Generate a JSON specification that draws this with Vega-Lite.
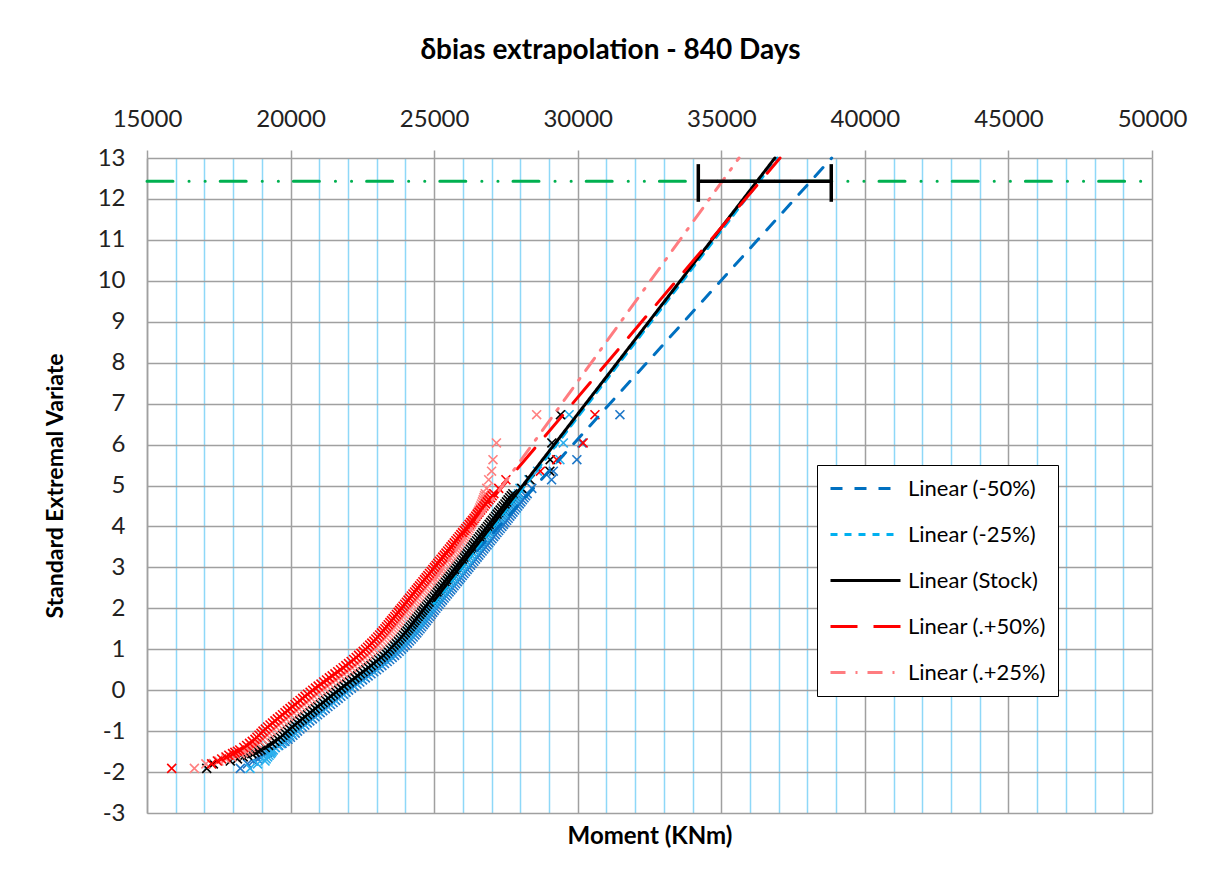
{
"$schema":"https://vega.github.io/schema/vega-lite/v6.json",
"width":1005,"height":655,
"autosize":{"type":"none"},
"padding":{"left":147,"top":158,"right":59,"bottom":63},
"background":"white",
"title":{"text":"δbias extrapolation - 840 Days","fontSize":28,"fontWeight":"bold","font":"Lato","color":"#000","anchor":"middle","dx":-39,"offset":42},
"config":{"view":{"stroke":null},"font":"Lato",
"legend":{"strokeColor":"#000","fillColor":"#fff","padding":12,"symbolType":"M-1,0H6","symbolSize":400,"symbolStrokeWidth":3,"labelFontSize":22,"labelFont":"Lato","labelColor":"#000","labelOffset":56,"rowPadding":23,"labelLimit":300}},
"datasets":{
"pts":[
{"s":"-50%","x":18250,"y":-1.91},{"s":"-50%","x":18500,"y":-1.8},{"s":"-50%","x":18700,"y":-1.73},{"s":"-50%","x":18850,"y":-1.68},{"s":"-50%","x":18950,"y":-1.63},{"s":"-50%","x":19050,"y":-1.59},{"s":"-50%","x":19130,"y":-1.55},{"s":"-50%","x":19200,"y":-1.52},{"s":"-50%","x":19260,"y":-1.49},{"s":"-50%","x":19320,"y":-1.46},
{"s":"-50%","x":19470,"y":-1.4},{"s":"-50%","x":19700,"y":-1.3},{"s":"-50%","x":19910,"y":-1.2},{"s":"-50%","x":20080,"y":-1.1},{"s":"-50%","x":20240,"y":-1.0},{"s":"-50%","x":20410,"y":-0.9},{"s":"-50%","x":20580,"y":-0.8},{"s":"-50%","x":20760,"y":-0.7},{"s":"-50%","x":20940,"y":-0.6},{"s":"-50%","x":21120,"y":-0.5},{"s":"-50%","x":21300,"y":-0.4},{"s":"-50%","x":21480,"y":-0.3},{"s":"-50%","x":21660,"y":-0.2},{"s":"-50%","x":21840,"y":-0.1},{"s":"-50%","x":22020,"y":0},{"s":"-50%","x":22215,"y":0.1},{"s":"-50%","x":22410,"y":0.2},{"s":"-50%","x":22605,"y":0.3},{"s":"-50%","x":22800,"y":0.4},{"s":"-50%","x":22995,"y":0.5},{"s":"-50%","x":23180,"y":0.6},{"s":"-50%","x":23365,"y":0.7},{"s":"-50%","x":23540,"y":0.8},{"s":"-50%","x":23705,"y":0.9},{"s":"-50%","x":23860,"y":1.0},{"s":"-50%","x":24000,"y":1.1},{"s":"-50%","x":24140,"y":1.2},{"s":"-50%","x":24270,"y":1.3},{"s":"-50%","x":24395,"y":1.4},{"s":"-50%","x":24510,"y":1.5},{"s":"-50%","x":24620,"y":1.6},{"s":"-50%","x":24730,"y":1.7},{"s":"-50%","x":24840,"y":1.8},{"s":"-50%","x":24950,"y":1.9},{"s":"-50%","x":25060,"y":2.0},{"s":"-50%","x":25175,"y":2.1},{"s":"-50%","x":25290,"y":2.2},{"s":"-50%","x":25405,"y":2.3},{"s":"-50%","x":25520,"y":2.4},{"s":"-50%","x":25635,"y":2.5},{"s":"-50%","x":25750,"y":2.6},{"s":"-50%","x":25865,"y":2.7},{"s":"-50%","x":25980,"y":2.8},{"s":"-50%","x":26095,"y":2.9},{"s":"-50%","x":26210,"y":3.0},{"s":"-50%","x":26325,"y":3.1},{"s":"-50%","x":26440,"y":3.2},{"s":"-50%","x":26555,"y":3.3},{"s":"-50%","x":26670,"y":3.4},{"s":"-50%","x":26785,"y":3.5},{"s":"-50%","x":26900,"y":3.6},{"s":"-50%","x":27015,"y":3.7},{"s":"-50%","x":27130,"y":3.8},{"s":"-50%","x":27245,"y":3.9},{"s":"-50%","x":27360,"y":4.0},{"s":"-50%","x":27470,"y":4.1},{"s":"-50%","x":27580,"y":4.2},{"s":"-50%","x":27690,"y":4.3},{"s":"-50%","x":27800,"y":4.4},{"s":"-50%","x":27910,"y":4.5},{"s":"-50%","x":28020,"y":4.6},{"s":"-50%","x":28130,"y":4.7},{"s":"-50%","x":28240,"y":4.8},{"s":"-50%","x":28400,"y":4.93},{"s":"-50%","x":29090,"y":5.14},{"s":"-50%","x":29150,"y":5.35},{"s":"-50%","x":29970,"y":5.63},{"s":"-50%","x":30150,"y":6.04},{"s":"-50%","x":31470,"y":6.73},
{"s":"-50%","x":19585,"y":-1.35},{"s":"-50%","x":19805,"y":-1.25},{"s":"-50%","x":19995,"y":-1.15},{"s":"-50%","x":20160,"y":-1.05},{"s":"-50%","x":20325,"y":-0.95},{"s":"-50%","x":20495,"y":-0.85},{"s":"-50%","x":20670,"y":-0.75},{"s":"-50%","x":20850,"y":-0.65},{"s":"-50%","x":21030,"y":-0.55},{"s":"-50%","x":21210,"y":-0.45},{"s":"-50%","x":21390,"y":-0.35},{"s":"-50%","x":21570,"y":-0.25},{"s":"-50%","x":21750,"y":-0.15},{"s":"-50%","x":21930,"y":-0.05},{"s":"-50%","x":22118,"y":0.05},{"s":"-50%","x":22312,"y":0.15},{"s":"-50%","x":22508,"y":0.25},{"s":"-50%","x":22702,"y":0.35},{"s":"-50%","x":22898,"y":0.45},{"s":"-50%","x":23088,"y":0.55},{"s":"-50%","x":23272,"y":0.65},{"s":"-50%","x":23452,"y":0.75},{"s":"-50%","x":23622,"y":0.85},{"s":"-50%","x":23782,"y":0.95},{"s":"-50%","x":23930,"y":1.05},{"s":"-50%","x":24070,"y":1.15},{"s":"-50%","x":24205,"y":1.25},{"s":"-50%","x":24332,"y":1.35},{"s":"-50%","x":24452,"y":1.45},{"s":"-50%","x":24565,"y":1.55},{"s":"-50%","x":24675,"y":1.65},{"s":"-50%","x":24785,"y":1.75},{"s":"-50%","x":24895,"y":1.85},{"s":"-50%","x":25005,"y":1.95},{"s":"-50%","x":25118,"y":2.05},{"s":"-50%","x":25232,"y":2.15},{"s":"-50%","x":25348,"y":2.25},{"s":"-50%","x":25462,"y":2.35},{"s":"-50%","x":25578,"y":2.45},{"s":"-50%","x":25692,"y":2.55},{"s":"-50%","x":25808,"y":2.65},{"s":"-50%","x":25922,"y":2.75},{"s":"-50%","x":26038,"y":2.85},{"s":"-50%","x":26152,"y":2.95},{"s":"-50%","x":26268,"y":3.05},{"s":"-50%","x":26382,"y":3.15},{"s":"-50%","x":26498,"y":3.25},{"s":"-50%","x":26612,"y":3.35},{"s":"-50%","x":26728,"y":3.45},{"s":"-50%","x":26842,"y":3.55},{"s":"-50%","x":26958,"y":3.65},{"s":"-50%","x":27072,"y":3.75},{"s":"-50%","x":27188,"y":3.85},{"s":"-50%","x":27302,"y":3.95},{"s":"-50%","x":27415,"y":4.05},{"s":"-50%","x":27525,"y":4.15},{"s":"-50%","x":27635,"y":4.25},{"s":"-50%","x":27745,"y":4.35},{"s":"-50%","x":27855,"y":4.45},{"s":"-50%","x":27965,"y":4.55},{"s":"-50%","x":28075,"y":4.65},{"s":"-50%","x":28185,"y":4.75},
{"s":"-25%","x":18590,"y":-1.91},{"s":"-25%","x":18850,"y":-1.8},{"s":"-25%","x":19110,"y":-1.73},{"s":"-25%","x":19150,"y":-1.68},{"s":"-25%","x":19200,"y":-1.63},{"s":"-25%","x":19250,"y":-1.59},{"s":"-25%","x":19300,"y":-1.55},{"s":"-25%","x":19330,"y":-1.52},{"s":"-25%","x":19360,"y":-1.49},{"s":"-25%","x":19400,"y":-1.46},
{"s":"-25%","x":19450,"y":-1.4},{"s":"-25%","x":19650,"y":-1.3},{"s":"-25%","x":19830,"y":-1.2},{"s":"-25%","x":19970,"y":-1.1},{"s":"-25%","x":20110,"y":-1.0},{"s":"-25%","x":20260,"y":-0.9},{"s":"-25%","x":20420,"y":-0.8},{"s":"-25%","x":20590,"y":-0.7},{"s":"-25%","x":20770,"y":-0.6},{"s":"-25%","x":20950,"y":-0.5},{"s":"-25%","x":21130,"y":-0.4},{"s":"-25%","x":21310,"y":-0.3},{"s":"-25%","x":21490,"y":-0.2},{"s":"-25%","x":21670,"y":-0.1},{"s":"-25%","x":21850,"y":0},{"s":"-25%","x":22040,"y":0.1},{"s":"-25%","x":22230,"y":0.2},{"s":"-25%","x":22420,"y":0.3},{"s":"-25%","x":22610,"y":0.4},{"s":"-25%","x":22800,"y":0.5},{"s":"-25%","x":22980,"y":0.6},{"s":"-25%","x":23160,"y":0.7},{"s":"-25%","x":23330,"y":0.8},{"s":"-25%","x":23490,"y":0.9},{"s":"-25%","x":23650,"y":1.0},{"s":"-25%","x":23790,"y":1.1},{"s":"-25%","x":23930,"y":1.2},{"s":"-25%","x":24060,"y":1.3},{"s":"-25%","x":24185,"y":1.4},{"s":"-25%","x":24310,"y":1.5},{"s":"-25%","x":24420,"y":1.6},{"s":"-25%","x":24530,"y":1.7},{"s":"-25%","x":24640,"y":1.8},{"s":"-25%","x":24750,"y":1.9},{"s":"-25%","x":24860,"y":2.0},{"s":"-25%","x":24970,"y":2.1},{"s":"-25%","x":25080,"y":2.2},{"s":"-25%","x":25190,"y":2.3},{"s":"-25%","x":25300,"y":2.4},{"s":"-25%","x":25410,"y":2.5},{"s":"-25%","x":25520,"y":2.6},{"s":"-25%","x":25630,"y":2.7},{"s":"-25%","x":25740,"y":2.8},{"s":"-25%","x":25850,"y":2.9},{"s":"-25%","x":25960,"y":3.0},{"s":"-25%","x":26070,"y":3.1},{"s":"-25%","x":26180,"y":3.2},{"s":"-25%","x":26290,"y":3.3},{"s":"-25%","x":26400,"y":3.4},{"s":"-25%","x":26510,"y":3.5},{"s":"-25%","x":26620,"y":3.6},{"s":"-25%","x":26730,"y":3.7},{"s":"-25%","x":26840,"y":3.8},{"s":"-25%","x":26950,"y":3.9},{"s":"-25%","x":27060,"y":4.0},{"s":"-25%","x":27170,"y":4.1},{"s":"-25%","x":27280,"y":4.2},{"s":"-25%","x":27390,"y":4.3},{"s":"-25%","x":27500,"y":4.4},{"s":"-25%","x":27610,"y":4.5},{"s":"-25%","x":27720,"y":4.6},{"s":"-25%","x":27830,"y":4.7},{"s":"-25%","x":27940,"y":4.8},{"s":"-25%","x":27990,"y":4.93},{"s":"-25%","x":28300,"y":5.14},{"s":"-25%","x":28600,"y":5.35},{"s":"-25%","x":29380,"y":5.63},{"s":"-25%","x":29500,"y":6.04},{"s":"-25%","x":29700,"y":6.73},
{"s":"-25%","x":19550,"y":-1.35},{"s":"-25%","x":19740,"y":-1.25},{"s":"-25%","x":19900,"y":-1.15},{"s":"-25%","x":20040,"y":-1.05},{"s":"-25%","x":20185,"y":-0.95},{"s":"-25%","x":20340,"y":-0.85},{"s":"-25%","x":20505,"y":-0.75},{"s":"-25%","x":20680,"y":-0.65},{"s":"-25%","x":20860,"y":-0.55},{"s":"-25%","x":21040,"y":-0.45},{"s":"-25%","x":21220,"y":-0.35},{"s":"-25%","x":21400,"y":-0.25},{"s":"-25%","x":21580,"y":-0.15},{"s":"-25%","x":21760,"y":-0.05},{"s":"-25%","x":21945,"y":0.05},{"s":"-25%","x":22135,"y":0.15},{"s":"-25%","x":22325,"y":0.25},{"s":"-25%","x":22515,"y":0.35},{"s":"-25%","x":22705,"y":0.45},{"s":"-25%","x":22890,"y":0.55},{"s":"-25%","x":23070,"y":0.65},{"s":"-25%","x":23245,"y":0.75},{"s":"-25%","x":23410,"y":0.85},{"s":"-25%","x":23570,"y":0.95},{"s":"-25%","x":23720,"y":1.05},{"s":"-25%","x":23860,"y":1.15},{"s":"-25%","x":23995,"y":1.25},{"s":"-25%","x":24122,"y":1.35},{"s":"-25%","x":24248,"y":1.45},{"s":"-25%","x":24365,"y":1.55},{"s":"-25%","x":24475,"y":1.65},{"s":"-25%","x":24585,"y":1.75},{"s":"-25%","x":24695,"y":1.85},{"s":"-25%","x":24805,"y":1.95},{"s":"-25%","x":24915,"y":2.05},{"s":"-25%","x":25025,"y":2.15},{"s":"-25%","x":25135,"y":2.25},{"s":"-25%","x":25245,"y":2.35},{"s":"-25%","x":25355,"y":2.45},{"s":"-25%","x":25465,"y":2.55},{"s":"-25%","x":25575,"y":2.65},{"s":"-25%","x":25685,"y":2.75},{"s":"-25%","x":25795,"y":2.85},{"s":"-25%","x":25905,"y":2.95},{"s":"-25%","x":26015,"y":3.05},{"s":"-25%","x":26125,"y":3.15},{"s":"-25%","x":26235,"y":3.25},{"s":"-25%","x":26345,"y":3.35},{"s":"-25%","x":26455,"y":3.45},{"s":"-25%","x":26565,"y":3.55},{"s":"-25%","x":26675,"y":3.65},{"s":"-25%","x":26785,"y":3.75},{"s":"-25%","x":26895,"y":3.85},{"s":"-25%","x":27005,"y":3.95},{"s":"-25%","x":27115,"y":4.05},{"s":"-25%","x":27225,"y":4.15},{"s":"-25%","x":27335,"y":4.25},{"s":"-25%","x":27445,"y":4.35},{"s":"-25%","x":27555,"y":4.45},{"s":"-25%","x":27665,"y":4.55},{"s":"-25%","x":27775,"y":4.65},{"s":"-25%","x":27885,"y":4.75},
{"s":"Stock","x":17080,"y":-1.91},{"s":"Stock","x":17310,"y":-1.8},{"s":"Stock","x":17900,"y":-1.73},{"s":"Stock","x":18150,"y":-1.68},{"s":"Stock","x":18350,"y":-1.63},{"s":"Stock","x":18500,"y":-1.59},{"s":"Stock","x":18650,"y":-1.55},{"s":"Stock","x":18760,"y":-1.52},{"s":"Stock","x":18870,"y":-1.49},{"s":"Stock","x":18970,"y":-1.46},
{"s":"Stock","x":19120,"y":-1.4},{"s":"Stock","x":19350,"y":-1.3},{"s":"Stock","x":19560,"y":-1.2},{"s":"Stock","x":19730,"y":-1.1},{"s":"Stock","x":19890,"y":-1.0},{"s":"Stock","x":20060,"y":-0.9},{"s":"Stock","x":20230,"y":-0.8},{"s":"Stock","x":20410,"y":-0.7},{"s":"Stock","x":20590,"y":-0.6},{"s":"Stock","x":20770,"y":-0.5},{"s":"Stock","x":20950,"y":-0.4},{"s":"Stock","x":21130,"y":-0.3},{"s":"Stock","x":21310,"y":-0.2},{"s":"Stock","x":21490,"y":-0.1},{"s":"Stock","x":21670,"y":0},{"s":"Stock","x":21860,"y":0.1},{"s":"Stock","x":22050,"y":0.2},{"s":"Stock","x":22240,"y":0.3},{"s":"Stock","x":22430,"y":0.4},{"s":"Stock","x":22620,"y":0.5},{"s":"Stock","x":22800,"y":0.6},{"s":"Stock","x":22980,"y":0.7},{"s":"Stock","x":23150,"y":0.8},{"s":"Stock","x":23310,"y":0.9},{"s":"Stock","x":23460,"y":1.0},{"s":"Stock","x":23600,"y":1.1},{"s":"Stock","x":23740,"y":1.2},{"s":"Stock","x":23870,"y":1.3},{"s":"Stock","x":23995,"y":1.4},{"s":"Stock","x":24110,"y":1.5},{"s":"Stock","x":24220,"y":1.6},{"s":"Stock","x":24330,"y":1.7},{"s":"Stock","x":24440,"y":1.8},{"s":"Stock","x":24550,"y":1.9},{"s":"Stock","x":24660,"y":2.0},{"s":"Stock","x":24770,"y":2.1},{"s":"Stock","x":24880,"y":2.2},{"s":"Stock","x":24990,"y":2.3},{"s":"Stock","x":25100,"y":2.4},{"s":"Stock","x":25210,"y":2.5},{"s":"Stock","x":25320,"y":2.6},{"s":"Stock","x":25430,"y":2.7},{"s":"Stock","x":25540,"y":2.8},{"s":"Stock","x":25650,"y":2.9},{"s":"Stock","x":25760,"y":3.0},{"s":"Stock","x":25870,"y":3.1},{"s":"Stock","x":25980,"y":3.2},{"s":"Stock","x":26090,"y":3.3},{"s":"Stock","x":26200,"y":3.4},{"s":"Stock","x":26310,"y":3.5},{"s":"Stock","x":26420,"y":3.6},{"s":"Stock","x":26530,"y":3.7},{"s":"Stock","x":26640,"y":3.8},{"s":"Stock","x":26750,"y":3.9},{"s":"Stock","x":26860,"y":4.0},{"s":"Stock","x":26970,"y":4.1},{"s":"Stock","x":27080,"y":4.2},{"s":"Stock","x":27190,"y":4.3},{"s":"Stock","x":27300,"y":4.4},{"s":"Stock","x":27410,"y":4.5},{"s":"Stock","x":27520,"y":4.6},{"s":"Stock","x":27630,"y":4.7},{"s":"Stock","x":27740,"y":4.8},{"s":"Stock","x":28050,"y":4.93},{"s":"Stock","x":28340,"y":5.14},{"s":"Stock","x":29030,"y":5.35},{"s":"Stock","x":29040,"y":5.63},{"s":"Stock","x":29100,"y":6.04},{"s":"Stock","x":29400,"y":6.73},
{"s":"Stock","x":19235,"y":-1.35},{"s":"Stock","x":19455,"y":-1.25},{"s":"Stock","x":19645,"y":-1.15},{"s":"Stock","x":19810,"y":-1.05},{"s":"Stock","x":19975,"y":-0.95},{"s":"Stock","x":20145,"y":-0.85},{"s":"Stock","x":20320,"y":-0.75},{"s":"Stock","x":20500,"y":-0.65},{"s":"Stock","x":20680,"y":-0.55},{"s":"Stock","x":20860,"y":-0.45},{"s":"Stock","x":21040,"y":-0.35},{"s":"Stock","x":21220,"y":-0.25},{"s":"Stock","x":21400,"y":-0.15},{"s":"Stock","x":21580,"y":-0.05},{"s":"Stock","x":21765,"y":0.05},{"s":"Stock","x":21955,"y":0.15},{"s":"Stock","x":22145,"y":0.25},{"s":"Stock","x":22335,"y":0.35},{"s":"Stock","x":22525,"y":0.45},{"s":"Stock","x":22710,"y":0.55},{"s":"Stock","x":22890,"y":0.65},{"s":"Stock","x":23065,"y":0.75},{"s":"Stock","x":23230,"y":0.85},{"s":"Stock","x":23385,"y":0.95},{"s":"Stock","x":23530,"y":1.05},{"s":"Stock","x":23670,"y":1.15},{"s":"Stock","x":23805,"y":1.25},{"s":"Stock","x":23932,"y":1.35},{"s":"Stock","x":24052,"y":1.45},{"s":"Stock","x":24165,"y":1.55},{"s":"Stock","x":24275,"y":1.65},{"s":"Stock","x":24385,"y":1.75},{"s":"Stock","x":24495,"y":1.85},{"s":"Stock","x":24605,"y":1.95},{"s":"Stock","x":24715,"y":2.05},{"s":"Stock","x":24825,"y":2.15},{"s":"Stock","x":24935,"y":2.25},{"s":"Stock","x":25045,"y":2.35},{"s":"Stock","x":25155,"y":2.45},{"s":"Stock","x":25265,"y":2.55},{"s":"Stock","x":25375,"y":2.65},{"s":"Stock","x":25485,"y":2.75},{"s":"Stock","x":25595,"y":2.85},{"s":"Stock","x":25705,"y":2.95},{"s":"Stock","x":25815,"y":3.05},{"s":"Stock","x":25925,"y":3.15},{"s":"Stock","x":26035,"y":3.25},{"s":"Stock","x":26145,"y":3.35},{"s":"Stock","x":26255,"y":3.45},{"s":"Stock","x":26365,"y":3.55},{"s":"Stock","x":26475,"y":3.65},{"s":"Stock","x":26585,"y":3.75},{"s":"Stock","x":26695,"y":3.85},{"s":"Stock","x":26805,"y":3.95},{"s":"Stock","x":26915,"y":4.05},{"s":"Stock","x":27025,"y":4.15},{"s":"Stock","x":27135,"y":4.25},{"s":"Stock","x":27245,"y":4.35},{"s":"Stock","x":27355,"y":4.45},{"s":"Stock","x":27465,"y":4.55},{"s":"Stock","x":27575,"y":4.65},{"s":"Stock","x":27685,"y":4.75},
{"s":"+25%","x":16650,"y":-1.91},{"s":"+25%","x":17050,"y":-1.8},{"s":"+25%","x":17500,"y":-1.73},{"s":"+25%","x":17750,"y":-1.68},{"s":"+25%","x":17950,"y":-1.63},{"s":"+25%","x":18100,"y":-1.59},{"s":"+25%","x":18250,"y":-1.55},{"s":"+25%","x":18350,"y":-1.52},{"s":"+25%","x":18450,"y":-1.49},{"s":"+25%","x":18550,"y":-1.46},
{"s":"+25%","x":18620,"y":-1.4},{"s":"+25%","x":18835,"y":-1.3},{"s":"+25%","x":19030,"y":-1.2},{"s":"+25%","x":19185,"y":-1.1},{"s":"+25%","x":19330,"y":-1.0},{"s":"+25%","x":19495,"y":-0.9},{"s":"+25%","x":19660,"y":-0.8},{"s":"+25%","x":19840,"y":-0.7},{"s":"+25%","x":20015,"y":-0.6},{"s":"+25%","x":20195,"y":-0.5},{"s":"+25%","x":20370,"y":-0.4},{"s":"+25%","x":20550,"y":-0.3},{"s":"+25%","x":20725,"y":-0.2},{"s":"+25%","x":20905,"y":-0.1},{"s":"+25%","x":21080,"y":0},{"s":"+25%","x":21273,"y":0.1},{"s":"+25%","x":21466,"y":0.2},{"s":"+25%","x":21659,"y":0.3},{"s":"+25%","x":21852,"y":0.4},{"s":"+25%","x":22045,"y":0.5},{"s":"+25%","x":22228,"y":0.6},{"s":"+25%","x":22411,"y":0.7},{"s":"+25%","x":22584,"y":0.8},{"s":"+25%","x":22747,"y":0.9},{"s":"+25%","x":22900,"y":1.0},{"s":"+25%","x":23043,"y":1.1},{"s":"+25%","x":23186,"y":1.2},{"s":"+25%","x":23319,"y":1.3},{"s":"+25%","x":23447,"y":1.4},{"s":"+25%","x":23565,"y":1.5},{"s":"+25%","x":23678,"y":1.6},{"s":"+25%","x":23791,"y":1.7},{"s":"+25%","x":23904,"y":1.8},{"s":"+25%","x":24017,"y":1.9},{"s":"+25%","x":24130,"y":2.0},{"s":"+25%","x":24243,"y":2.1},{"s":"+25%","x":24356,"y":2.2},{"s":"+25%","x":24469,"y":2.3},{"s":"+25%","x":24582,"y":2.4},{"s":"+25%","x":24695,"y":2.5},{"s":"+25%","x":24808,"y":2.6},{"s":"+25%","x":24921,"y":2.7},{"s":"+25%","x":25034,"y":2.8},{"s":"+25%","x":25147,"y":2.9},{"s":"+25%","x":25260,"y":3.0},{"s":"+25%","x":25374,"y":3.1},{"s":"+25%","x":25488,"y":3.2},{"s":"+25%","x":25602,"y":3.3},{"s":"+25%","x":25700,"y":3.4},{"s":"+25%","x":25800,"y":3.5},{"s":"+25%","x":25900,"y":3.6},{"s":"+25%","x":26000,"y":3.7},{"s":"+25%","x":26090,"y":3.8},{"s":"+25%","x":26180,"y":3.9},{"s":"+25%","x":26260,"y":4.0},{"s":"+25%","x":26340,"y":4.1},{"s":"+25%","x":26420,"y":4.2},{"s":"+25%","x":26490,"y":4.3},{"s":"+25%","x":26560,"y":4.4},{"s":"+25%","x":26620,"y":4.5},{"s":"+25%","x":26680,"y":4.6},{"s":"+25%","x":26730,"y":4.7},{"s":"+25%","x":26780,"y":4.8},{"s":"+25%","x":26830,"y":4.93},{"s":"+25%","x":26900,"y":5.14},{"s":"+25%","x":27000,"y":5.35},{"s":"+25%","x":27050,"y":5.63},{"s":"+25%","x":27170,"y":6.04},{"s":"+25%","x":28570,"y":6.73},
{"s":"+25%","x":18728,"y":-1.35},{"s":"+25%","x":18932,"y":-1.25},{"s":"+25%","x":19108,"y":-1.15},{"s":"+25%","x":19258,"y":-1.05},{"s":"+25%","x":19412,"y":-0.95},{"s":"+25%","x":19578,"y":-0.85},{"s":"+25%","x":19750,"y":-0.75},{"s":"+25%","x":19928,"y":-0.65},{"s":"+25%","x":20105,"y":-0.55},{"s":"+25%","x":20282,"y":-0.45},{"s":"+25%","x":20460,"y":-0.35},{"s":"+25%","x":20638,"y":-0.25},{"s":"+25%","x":20815,"y":-0.15},{"s":"+25%","x":20992,"y":-0.05},{"s":"+25%","x":21176,"y":0.05},{"s":"+25%","x":21370,"y":0.15},{"s":"+25%","x":21562,"y":0.25},{"s":"+25%","x":21756,"y":0.35},{"s":"+25%","x":21948,"y":0.45},{"s":"+25%","x":22136,"y":0.55},{"s":"+25%","x":22320,"y":0.65},{"s":"+25%","x":22498,"y":0.75},{"s":"+25%","x":22666,"y":0.85},{"s":"+25%","x":22824,"y":0.95},{"s":"+25%","x":22972,"y":1.05},{"s":"+25%","x":23114,"y":1.15},{"s":"+25%","x":23252,"y":1.25},{"s":"+25%","x":23383,"y":1.35},{"s":"+25%","x":23506,"y":1.45},{"s":"+25%","x":23622,"y":1.55},{"s":"+25%","x":23734,"y":1.65},{"s":"+25%","x":23848,"y":1.75},{"s":"+25%","x":23960,"y":1.85},{"s":"+25%","x":24074,"y":1.95},{"s":"+25%","x":24186,"y":2.05},{"s":"+25%","x":24300,"y":2.15},{"s":"+25%","x":24412,"y":2.25},{"s":"+25%","x":24526,"y":2.35},{"s":"+25%","x":24638,"y":2.45},{"s":"+25%","x":24752,"y":2.55},{"s":"+25%","x":24864,"y":2.65},{"s":"+25%","x":24978,"y":2.75},{"s":"+25%","x":25090,"y":2.85},{"s":"+25%","x":25204,"y":2.95},{"s":"+25%","x":25317,"y":3.05},{"s":"+25%","x":25431,"y":3.15},{"s":"+25%","x":25545,"y":3.25},{"s":"+25%","x":25651,"y":3.35},{"s":"+25%","x":25750,"y":3.45},{"s":"+25%","x":25850,"y":3.55},{"s":"+25%","x":25950,"y":3.65},{"s":"+25%","x":26045,"y":3.75},{"s":"+25%","x":26135,"y":3.85},{"s":"+25%","x":26220,"y":3.95},{"s":"+25%","x":26300,"y":4.05},{"s":"+25%","x":26380,"y":4.15},{"s":"+25%","x":26455,"y":4.25},{"s":"+25%","x":26525,"y":4.35},{"s":"+25%","x":26590,"y":4.45},{"s":"+25%","x":26650,"y":4.55},{"s":"+25%","x":26705,"y":4.65},{"s":"+25%","x":26755,"y":4.75},
{"s":"+50%","x":15860,"y":-1.91},{"s":"+50%","x":17250,"y":-1.8},{"s":"+50%","x":17450,"y":-1.73},{"s":"+50%","x":17600,"y":-1.68},{"s":"+50%","x":17750,"y":-1.63},{"s":"+50%","x":17850,"y":-1.59},{"s":"+50%","x":17980,"y":-1.55},{"s":"+50%","x":18060,"y":-1.52},{"s":"+50%","x":18150,"y":-1.49},{"s":"+50%","x":18230,"y":-1.46},
{"s":"+50%","x":18370,"y":-1.4},{"s":"+50%","x":18570,"y":-1.3},{"s":"+50%","x":18760,"y":-1.2},{"s":"+50%","x":18900,"y":-1.1},{"s":"+50%","x":19040,"y":-1.0},{"s":"+50%","x":19200,"y":-0.9},{"s":"+50%","x":19370,"y":-0.8},{"s":"+50%","x":19540,"y":-0.7},{"s":"+50%","x":19720,"y":-0.6},{"s":"+50%","x":19890,"y":-0.5},{"s":"+50%","x":20070,"y":-0.4},{"s":"+50%","x":20240,"y":-0.3},{"s":"+50%","x":20420,"y":-0.2},{"s":"+50%","x":20590,"y":-0.1},{"s":"+50%","x":20770,"y":0},{"s":"+50%","x":20960,"y":0.1},{"s":"+50%","x":21155,"y":0.2},{"s":"+50%","x":21350,"y":0.3},{"s":"+50%","x":21545,"y":0.4},{"s":"+50%","x":21740,"y":0.5},{"s":"+50%","x":21925,"y":0.6},{"s":"+50%","x":22110,"y":0.7},{"s":"+50%","x":22285,"y":0.8},{"s":"+50%","x":22450,"y":0.9},{"s":"+50%","x":22610,"y":1.0},{"s":"+50%","x":22755,"y":1.1},{"s":"+50%","x":22900,"y":1.2},{"s":"+50%","x":23035,"y":1.3},{"s":"+50%","x":23165,"y":1.4},{"s":"+50%","x":23285,"y":1.5},{"s":"+50%","x":23400,"y":1.6},{"s":"+50%","x":23515,"y":1.7},{"s":"+50%","x":23630,"y":1.8},{"s":"+50%","x":23745,"y":1.9},{"s":"+50%","x":23860,"y":2.0},{"s":"+50%","x":23975,"y":2.1},{"s":"+50%","x":24090,"y":2.2},{"s":"+50%","x":24205,"y":2.3},{"s":"+50%","x":24320,"y":2.4},{"s":"+50%","x":24435,"y":2.5},{"s":"+50%","x":24550,"y":2.6},{"s":"+50%","x":24665,"y":2.7},{"s":"+50%","x":24780,"y":2.8},{"s":"+50%","x":24895,"y":2.9},{"s":"+50%","x":25010,"y":3.0},{"s":"+50%","x":25125,"y":3.1},{"s":"+50%","x":25240,"y":3.2},{"s":"+50%","x":25355,"y":3.3},{"s":"+50%","x":25470,"y":3.4},{"s":"+50%","x":25585,"y":3.5},{"s":"+50%","x":25700,"y":3.6},{"s":"+50%","x":25815,"y":3.7},{"s":"+50%","x":25930,"y":3.8},{"s":"+50%","x":26045,"y":3.9},{"s":"+50%","x":26160,"y":4.0},{"s":"+50%","x":26275,"y":4.1},{"s":"+50%","x":26390,"y":4.2},{"s":"+50%","x":26505,"y":4.3},{"s":"+50%","x":26620,"y":4.4},{"s":"+50%","x":26735,"y":4.5},{"s":"+50%","x":26850,"y":4.6},{"s":"+50%","x":26965,"y":4.7},{"s":"+50%","x":27080,"y":4.8},{"s":"+50%","x":27250,"y":4.93},{"s":"+50%","x":27500,"y":5.14},{"s":"+50%","x":28700,"y":5.35},{"s":"+50%","x":29270,"y":5.63},{"s":"+50%","x":30190,"y":6.04},{"s":"+50%","x":30600,"y":6.73},
{"s":"+50%","x":18470,"y":-1.35},{"s":"+50%","x":18665,"y":-1.25},{"s":"+50%","x":18830,"y":-1.15},{"s":"+50%","x":18970,"y":-1.05},{"s":"+50%","x":19120,"y":-0.95},{"s":"+50%","x":19285,"y":-0.85},{"s":"+50%","x":19455,"y":-0.75},{"s":"+50%","x":19630,"y":-0.65},{"s":"+50%","x":19805,"y":-0.55},{"s":"+50%","x":19980,"y":-0.45},{"s":"+50%","x":20155,"y":-0.35},{"s":"+50%","x":20330,"y":-0.25},{"s":"+50%","x":20505,"y":-0.15},{"s":"+50%","x":20680,"y":-0.05},{"s":"+50%","x":20865,"y":0.05},{"s":"+50%","x":21058,"y":0.15},{"s":"+50%","x":21252,"y":0.25},{"s":"+50%","x":21448,"y":0.35},{"s":"+50%","x":21642,"y":0.45},{"s":"+50%","x":21832,"y":0.55},{"s":"+50%","x":22018,"y":0.65},{"s":"+50%","x":22198,"y":0.75},{"s":"+50%","x":22368,"y":0.85},{"s":"+50%","x":22530,"y":0.95},{"s":"+50%","x":22682,"y":1.05},{"s":"+50%","x":22828,"y":1.15},{"s":"+50%","x":22968,"y":1.25},{"s":"+50%","x":23100,"y":1.35},{"s":"+50%","x":23225,"y":1.45},{"s":"+50%","x":23342,"y":1.55},{"s":"+50%","x":23458,"y":1.65},{"s":"+50%","x":23572,"y":1.75},{"s":"+50%","x":23688,"y":1.85},{"s":"+50%","x":23802,"y":1.95},{"s":"+50%","x":23918,"y":2.05},{"s":"+50%","x":24032,"y":2.15},{"s":"+50%","x":24148,"y":2.25},{"s":"+50%","x":24262,"y":2.35},{"s":"+50%","x":24378,"y":2.45},{"s":"+50%","x":24492,"y":2.55},{"s":"+50%","x":24608,"y":2.65},{"s":"+50%","x":24722,"y":2.75},{"s":"+50%","x":24838,"y":2.85},{"s":"+50%","x":24952,"y":2.95},{"s":"+50%","x":25068,"y":3.05},{"s":"+50%","x":25182,"y":3.15},{"s":"+50%","x":25298,"y":3.25},{"s":"+50%","x":25412,"y":3.35},{"s":"+50%","x":25528,"y":3.45},{"s":"+50%","x":25642,"y":3.55},{"s":"+50%","x":25758,"y":3.65},{"s":"+50%","x":25872,"y":3.75},{"s":"+50%","x":25988,"y":3.85},{"s":"+50%","x":26102,"y":3.95},{"s":"+50%","x":26218,"y":4.05},{"s":"+50%","x":26332,"y":4.15},{"s":"+50%","x":26448,"y":4.25},{"s":"+50%","x":26562,"y":4.35},{"s":"+50%","x":26678,"y":4.45},{"s":"+50%","x":26792,"y":4.55},{"s":"+50%","x":26908,"y":4.65},{"s":"+50%","x":27022,"y":4.75}
],
"lines":[
{"name":"Linear (-50%)","x":26500,"y":3.41},{"name":"Linear (-50%)","x":38845,"y":13},
{"name":"Linear (-25%)","x":25000,"y":2.12},{"name":"Linear (-25%)","x":36950,"y":13},
{"name":"Linear (Stock)","x":25000,"y":2.19},{"name":"Linear (Stock)","x":36866,"y":13},
{"name":"Linear (.+50%)","x":25000,"y":3.0},{"name":"Linear (.+50%)","x":37045,"y":13},
{"name":"Linear (.+25%)","x":25000,"y":2.68},{"name":"Linear (.+25%)","x":35617,"y":13}
]},
"layer":[
{"data":{"name":"pts"},
"mark":{"type":"point","shape":"M-1,-1L1,1M1,-1L-1,1","filled":false,"size":80,"strokeWidth":1.6,"opacity":1},
"encoding":{
"x":{"field":"x","type":"quantitative","scale":{"domain":[15000,50000],"nice":false,"zero":false},
"axis":{"orient":"bottom","values":[16000,17000,18000,19000,21000,22000,23000,24000,26000,27000,28000,29000,31000,32000,33000,34000,36000,37000,38000,39000,41000,42000,43000,44000,46000,47000,48000,49000],"grid":true,"gridColor":"#8ED8F8","gridWidth":1.5,"labels":false,"ticks":false,"domain":false,"title":"Moment (KNm)","titleFontSize":24,"titleFontWeight":"bold","titleColor":"#000","titleFont":"Lato","titlePadding":11}},
"y":{"field":"y","type":"quantitative","scale":{"domain":[-3,13],"nice":false,"zero":false},
"axis":{"values":[-3,-2,-1,0,1,2,3,4,5,6,7,8,9,10,11,12,13],"labelExpr":"'' + datum.value","labelFlush":false,"grid":true,"gridColor":"#A0A0A0","gridWidth":1.5,"ticks":false,"domain":true,"domainColor":"#A0A0A0","domainWidth":1.5,"labelFontSize":24,"labelFont":"Lato","labelColor":"#222","labelPadding":22,"title":"Standard Extremal Variate","titleFontSize":23,"titleFontWeight":"bold","titleColor":"#000","titleFont":"Lato","titlePadding":30}},
"stroke":{"field":"s","type":"nominal","scale":{"domain":["-50%","-25%","Stock","+50%","+25%"],"range":["#1F78C8","#29B0EE","#000000","#FF0000","#FF8080"]},"legend":null}
}},
{"data":{"values":[{"x":15000,"y":12.43},{"x":50000,"y":12.43}]},
"mark":{"type":"line","color":"#00B050","strokeWidth":3,"strokeDash":[26,16,0.1,16,0.1,15],"strokeCap":"round"},
"encoding":{
"x":{"field":"x","type":"quantitative","scale":{"domain":[15000,50000],"nice":false,"zero":false},
"axis":{"orient":"top","values":[15000,20000,25000,30000,35000,40000,45000,50000],"format":"d","labelFlush":false,"grid":true,"gridColor":"#A0A0A0","gridWidth":1.5,"ticks":true,"tickSize":8,"tickColor":"#A0A0A0","tickWidth":1.5,"domain":false,"labelFontSize":24,"labelFont":"Lato","labelColor":"#222","labelPadding":19,"title":null}},
"y":{"field":"y","type":"quantitative","scale":{"domain":[-3,13],"nice":false,"zero":false},"axis":null}
}},
{"data":{"name":"lines"},
"mark":{"type":"line","strokeWidth":3,"strokeCap":"round"},
"encoding":{
"x":{"field":"x","type":"quantitative","axis":null},
"y":{"field":"y","type":"quantitative","axis":null},
"color":{"field":"name","type":"nominal","scale":{"domain":["Linear (-50%)","Linear (-25%)","Linear (Stock)","Linear (.+50%)","Linear (.+25%)"],"range":["#0070C0","#00B0F0","#000000","#FF0000","#FF7C80"]},"legend":{"title":null,"orient":"none","legendX":670,"legendY":307}},
"strokeDash":{"field":"name","type":"nominal","scale":{"domain":["Linear (-50%)","Linear (-25%)","Linear (Stock)","Linear (.+50%)","Linear (.+25%)"],"range":[[12,12],[7,7],[1,0],[27,16],[15,10,2,10]]},"legend":{"title":null,"orient":"none","legendX":670,"legendY":307}}
}},
{"data":{"values":[{"x":34200,"x2":38830,"y":12.43}]},
"mark":{"type":"rule","color":"#000","strokeWidth":3.5},
"encoding":{"x":{"field":"x","type":"quantitative","axis":null},"x2":{"field":"x2"},"y":{"field":"y","type":"quantitative","axis":null}}},
{"data":{"values":[{"x":34200,"y":11.93,"y2":12.85},{"x":38830,"y":11.93,"y2":12.85}]},
"mark":{"type":"rule","color":"#000","strokeWidth":3.5},
"encoding":{"x":{"field":"x","type":"quantitative","axis":null},"y":{"field":"y","type":"quantitative","axis":null},"y2":{"field":"y2"}}}
],
"resolve":{"axis":{"x":"independent","y":"independent"}}
}
